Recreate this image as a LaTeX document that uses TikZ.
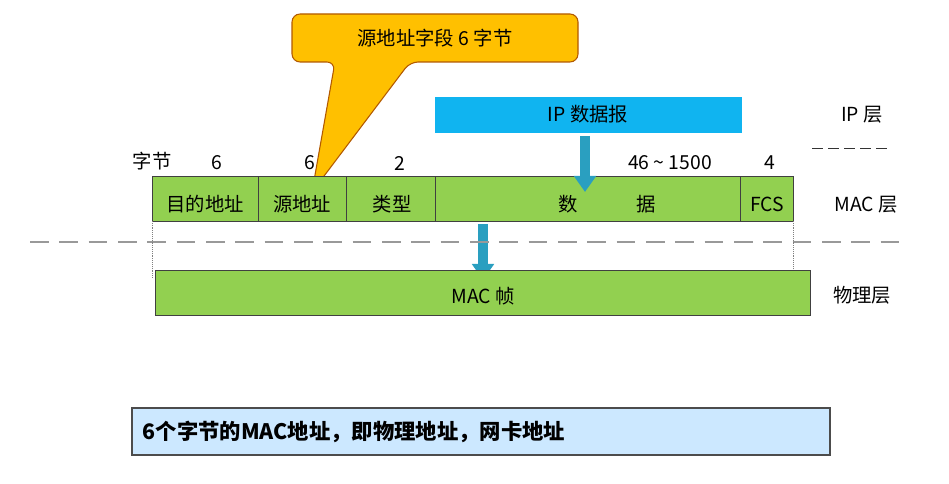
\documentclass[tikz,border=0pt]{standalone}
\usepackage{fontspec}
\setmainfont{Noto Sans CJK SC}
\usetikzlibrary{arrows.meta}
\begin{document}
\begin{tikzpicture}[x=0.75pt,y=-0.75pt,
  lab/.style={font=\fontsize{14.5}{17}\selectfont}]
\useasboundingbox (0,0) rectangle (949,484);
\definecolor{mg}{HTML}{92D050}
\definecolor{ipc}{HTML}{10B4F0}
\definecolor{orc}{HTML}{FFC000}
\definecolor{arc}{HTML}{2A9FC0}
\definecolor{btc}{HTML}{CCE8FF}
\tikzset{cell/.style={draw=black!75,fill=mg,line width=0.6pt},
  arr/.style={-{Triangle[width=16pt,length=12pt]},line width=7pt,draw=arc}}
% callout
\filldraw[fill=orc,draw=orange!70!black,line width=0.8pt,rounded corners=6pt]
 (292,14) -- (578,14) -- (578,62) -- (410,62) -- (312,192) -- (335,62) -- (292,62) -- cycle;
\node[lab] (co) at (435,38) {源地址字段 6 字节};
% IP
\fill[fill=ipc] (435,97) rectangle (742,133);
\node[lab] (ip) at (588,114) {IP 数据报};
\node[lab] (ipl) at (862,115) {IP 层};
\coordinate (d1) at (812,148); \coordinate (d2) at (890,148);
\draw[black!80,dash pattern=on 8pt off 4pt] (d1) -- (d2);
% byte labels
\node[lab] (zj) at (152,161) {字节};
\node[lab] (b1) at (217,163) {6};
\node[lab] (b2) at (310,163) {6};
\node[lab] (b3) at (400,163) {2};
\node[lab] (b4) at (670,163) {46 \textasciitilde\ 1500};
\node[lab] (b5) at (770,163) {4};
% MAC row
\draw[cell] (152,176) rectangle (258,221);
\draw[cell] (258,176) rectangle (346,221);
\draw[cell] (346,176) rectangle (435,221);
\draw[cell] (435,176) rectangle (740,221);
\draw[cell] (740,176) rectangle (793,221);
\node[lab] (c1) at (205,204) {目的地址};
\node[lab] (c2) at (302,204) {源地址};
\node[lab] (c3) at (392,204) {类型};
\node[lab] (c4) at (607,204) {数\qquad\quad 据};
\node[lab] (c5) at (767,204) {FCS};
\node[lab] (macl) at (866,205) {MAC 层};
% arrows
\coordinate (a1) at (585,136); \coordinate (a2) at (585,192);
\draw[arr] (a1) -- (a2);
\coordinate (a3) at (483,224); \coordinate (a4) at (483,280);
\draw[arr] (a3) -- (a4);
% dashed layer separator
\coordinate (s1) at (30,242); \coordinate (s2) at (900,242);
\draw[gray!80,line width=2pt,dash pattern=on 14pt off 8pt] (s1) -- (s2);
\draw[gray,densely dotted] (152,221) -- (152,278);
\draw[gray,densely dotted] (793,221) -- (793,270);
% physical
\draw[cell] (155,270) rectangle (810,315);
\node[lab] (mf) at (483,296) {MAC 帧};
\node[lab] (phy) at (862,295) {物理层};
% bottom
\draw[fill=btc,draw=black!70,line width=0.8pt] (132,408) rectangle (830,455);
\node[anchor=west,font=\fontsize{16}{18}\selectfont\bfseries] (bt) at (138,432) {6个字节的MAC地址，即物理地址，网卡地址};
\end{tikzpicture}
\end{document}
